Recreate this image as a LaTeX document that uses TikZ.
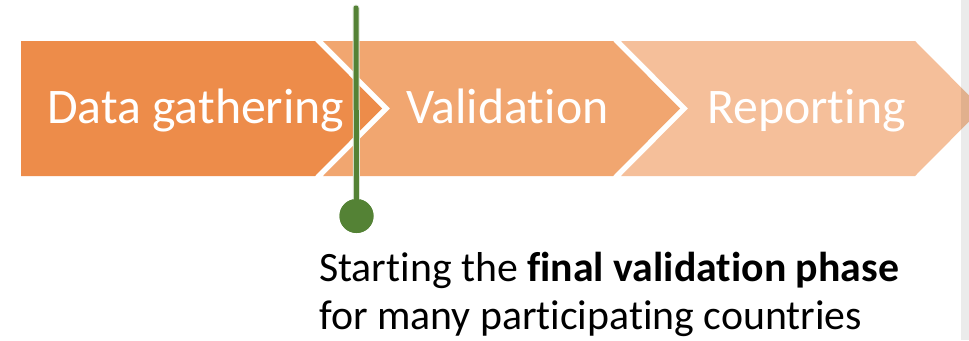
\documentclass[tikz,border=0pt]{standalone}
\usepackage{fontspec}
\setmainfont[Ligatures=NoCommon]{Carlito}
\definecolor{chevA}{RGB}{237,140,74}
\definecolor{chevB}{RGB}{241,166,112}
\definecolor{chevC}{RGB}{245,191,154}
\definecolor{markgreen}{RGB}{84,130,53}
\tikzset{
  steplabel/.style={anchor=base west, inner sep=0pt, text=white, font=\fontsize{49.8}{58}\selectfont},
  notetext/.style={anchor=base west, inner sep=0pt, text=black, font=\fontsize{41.8}{50}\selectfont},
  markerdot/.style={circle, fill=markgreen, inner sep=0pt, minimum size=34pt},
}
\begin{document}
\begin{tikzpicture}[x=1pt,y=-1pt]
\useasboundingbox (0,0) rectangle (969,340);
\fill[white] (0,0) rectangle (969,340);
% chevrons
\fill[chevC] (621,41) -- (915,41) -- (982,108.5) -- (915,176) -- (621,176) -- (688,108.5) -- cycle;
\fill[chevB] (323,41) -- (613,41) -- (680,108.5) -- (613,176) -- (323,176) -- (390,108.5) -- cycle;
\fill[chevA] (21,41) -- (315,41) -- (382,108.5) -- (315,176) -- (21,176) -- cycle;
% labels
\node[steplabel] (lab1) at (47,123) {Data gathering};
\node[steplabel] (lab2) at (406,123) {Validation};
\node[steplabel] (lab3) at (707,123) {Reporting};
% marker
\node[markerdot] (marker) at (356.5,216) {};
\coordinate (mtop) at (356,8);
\draw[white!80!markgreen, line width=7pt, line cap=round] (mtop) -- (marker.center);
\draw[markgreen, line width=5pt, line cap=round] (mtop) -- (marker.center);
\node[markerdot] at (marker.center) {};
% note
\node[notetext] (note1) at (319,281) {Starting the \textbf{final validation phase}};
\node[notetext] (note2) at (319,329) {for many participating countries};
% gray strip at right edge
\fill[black, opacity=0.08] (961,0) rectangle (969,340);
\end{tikzpicture}
\end{document}
